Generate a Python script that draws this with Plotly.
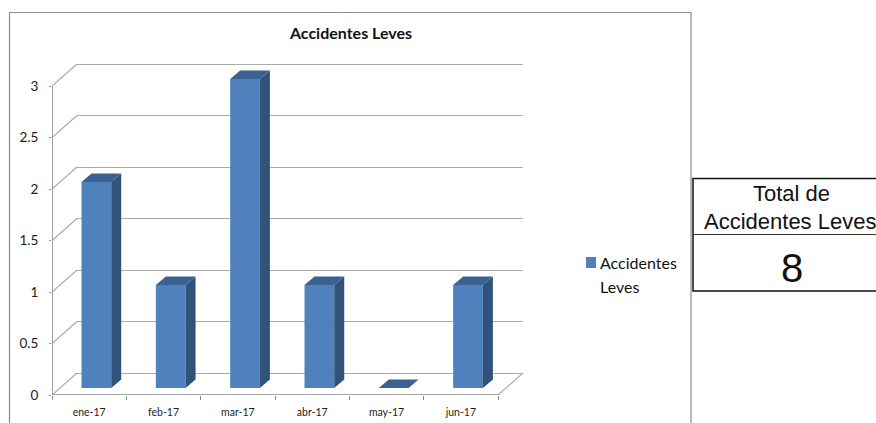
import plotly.graph_objects as go

categories = ["ene-17", "feb-17", "mar-17", "abr-17", "may-17", "jun-17"]
values = [2, 1, 3, 1, 0, 1]
y_ticks = [0, 0.5, 1, 1.5, 2, 2.5, 3]
y_labels = ["0", "0.5", "1", "1.5", "2", "2.5", "3"]
series_name = "Accidentes Leves"
legend_lines = ["Accidentes", "Leves"]
title = "Accidentes Leves"
total_lines = ["Total de", "Accidentes Leves"]
total_value = "8"

W, H = 876, 423
# front plane, in pixels
L, R, T, B = 52, 498, 86, 395
PLOT_R, PLOT_T = 527, 60   # drawing area reaches past the front plane for the depth effect
WALL_DX, WALL_DY = 25, 22
PAD = 0.05
unit_x = (R - L) / len(categories)
unit_y = (B - T) / 3
BAR_W = 0.40
# bar placement in the depth of the floor (px -> data units)
lift_x, lift_y = 7.2 / unit_x, 7 / unit_y
side_x, side_y = 10 / unit_x, 8.5 / unit_y
wall_x, wall_y = WALL_DX / unit_x, WALL_DY / unit_y
x_top = (PLOT_R - L) / unit_x
y_top = (B - PLOT_T) / unit_y

FRONT, SIDE, TOP = "#4F81BD", "#31537B", "#3A6191"
GRID = "#ABABAB"
AXIS = "#8C8C8C"
TXT = "#1C1C1C"
CHART_FONT = "Lato"
TABLE_FONT = "Liberation Sans"

centers = [i + 0.5 for i in range(len(categories))]
fig = go.Figure()

# back wall subplot (real gridlines)
fig.add_trace(go.Scatter(x=[0], y=[0], mode="markers", marker=dict(opacity=0),
                         showlegend=False, hoverinfo="skip", xaxis="x", yaxis="y"))

# diagonal floor / side wall lines
dx, dy = [], []
for t in y_ticks:
    dx += [0, wall_x, None]
    dy += [t, t + wall_y, None]
dx += [len(categories), len(categories) + wall_x, None]
dy += [0, wall_y, None]
fig.add_trace(go.Scatter(x=dx, y=dy, mode="lines", line=dict(color=GRID, width=1.2),
                         showlegend=False, hoverinfo="skip", xaxis="x2", yaxis="y2"))

# front axis lines, stopping at the last tick
fig.add_trace(go.Scatter(x=[0, 0, None, 0, len(categories)], y=[0, 3, None, 0, 0], mode="lines",
                         line=dict(color=AXIS, width=1.6), showlegend=False, hoverinfo="skip",
                         xaxis="x2", yaxis="y2"))

# front faces
fig.add_trace(go.Bar(x=[c + lift_x for c in centers], y=values, base=lift_y, width=BAR_W,
                     marker=dict(color=FRONT, line=dict(width=0)), name=series_name,
                     showlegend=False, xaxis="x2", yaxis="y2"))

# side and top faces
for c, v in zip(centers, values):
    x0 = c + lift_x - BAR_W / 2
    x1 = c + lift_x + BAR_W / 2
    y0, y1 = lift_y, lift_y + v
    if v > 0:
        fig.add_trace(go.Scatter(
            x=[x1, x1 + side_x, x1 + side_x, x1, x1],
            y=[y0, y0 + side_y, y1 + side_y, y1, y0],
            mode="lines", fill="toself", fillcolor=SIDE, line=dict(width=0, color=SIDE),
            showlegend=False, hoverinfo="skip", xaxis="x2", yaxis="y2"))
    fig.add_trace(go.Scatter(
        x=[x0, x1, x1 + side_x, x0 + side_x, x0],
        y=[y1, y1, y1 + side_y, y1 + side_y, y1],
        mode="lines", fill="toself", fillcolor=TOP, line=dict(width=0, color=TOP),
        showlegend=False, hoverinfo="skip", xaxis="x2", yaxis="y2"))

FRAME = dict(color="#8A8A8A", width=1.2)
shapes = [
    # chart frame
    dict(type="line", xref="paper", yref="paper", x0=9.5 / W, x1=9.5 / W, y0=0, y1=1 - 12.5 / H, line=FRAME),
    dict(type="line", xref="paper", yref="paper", x0=9.5 / W, x1=691 / W, y0=1 - 12.5 / H, y1=1 - 12.5 / H, line=FRAME),
    dict(type="line", xref="paper", yref="paper", x0=691 / W, x1=691 / W, y0=0, y1=1 - 12.5 / H, line=FRAME),
    # legend key
    dict(type="rect", xref="paper", yref="paper", x0=586 / W, x1=596 / W, y0=1 - 268 / H, y1=1 - 257 / H,
         line=dict(width=0), fillcolor=FRONT),
    # total box
    dict(type="rect", xref="paper", yref="paper", x0=693 / W, x1=878 / W, y0=1 - 291 / H, y1=1 - 178.5 / H,
         line=dict(color="#111111", width=1.5), fillcolor="white"),
    dict(type="line", xref="paper", yref="paper", x0=693 / W, x1=878 / W, y0=1 - 234.5 / H, y1=1 - 234.5 / H,
         line=dict(color="#333333", width=1)),
]


def label(text, px, py, family, size, anchor="center"):
    return dict(text=text, x=px / W, y=1 - py / H, xref="paper", yref="paper", showarrow=False,
                font=dict(family=family, size=size, color="#111111"), xanchor=anchor, yanchor="middle")


annotations = [
    label(total_lines[0], 791, 193, TABLE_FONT, 22),
    label(total_lines[1], 790, 221, TABLE_FONT, 22),
    label(total_value, 792, 268, TABLE_FONT, 40),
    label(legend_lines[0], 598, 262, CHART_FONT, 16, "left"),
    label(legend_lines[1], 598, 286, CHART_FONT, 16, "left"),
]

fig.update_layout(
    width=W, height=H, autosize=False,
    margin=dict(l=0, r=0, t=0, b=0, autoexpand=False),
    paper_bgcolor="white", plot_bgcolor="rgba(0,0,0,0)",
    font=dict(family=CHART_FONT, color=TXT),
    title=dict(text="<b>" + title + "</b>", x=351 / W, y=1 - 33 / H, xanchor="center", yanchor="middle",
               font=dict(family=CHART_FONT, size=16, color="#111111")),
    xaxis=dict(domain=[(L + WALL_DX) / W, (R + WALL_DX) / W], range=[0, len(categories)],
               showgrid=False, zeroline=False, showline=False, showticklabels=False, ticks=""),
    yaxis=dict(domain=[1 - (B - WALL_DY + PAD * unit_y) / H, 1 - (T - WALL_DY - PAD * unit_y) / H],
               range=[-PAD, 3 + PAD],
               tickvals=y_ticks, showgrid=True, gridcolor=GRID, gridwidth=1.2,
               zeroline=False, showline=False, showticklabels=False, ticks=""),
    xaxis2=dict(domain=[L / W, PLOT_R / W], range=[0, x_top], anchor="y2",
                tickvals=centers, ticktext=categories, ticks="", showgrid=False, zeroline=False,
                showline=False, ticklabelstandoff=9,
                tickfont=dict(size=10.5, color=TXT),
                minor=dict(tickvals=list(range(len(categories) + 1)), ticks="outside", ticklen=4,
                           tickcolor=AXIS, showgrid=False)),
    yaxis2=dict(domain=[1 - B / H, 1 - PLOT_T / H], range=[0, y_top], anchor="x2",
                tickvals=y_ticks, ticktext=y_labels, ticks="outside", ticklen=2, tickcolor=AXIS,
                showgrid=False, zeroline=False, showline=False, ticklabelstandoff=8,
                tickfont=dict(size=13.5, color=TXT)),
    showlegend=False,
    shapes=shapes, annotations=annotations,
)

fig.write_html("out.html", post_script="document.body.style.margin='0';",
               config={"displayModeBar": False})
